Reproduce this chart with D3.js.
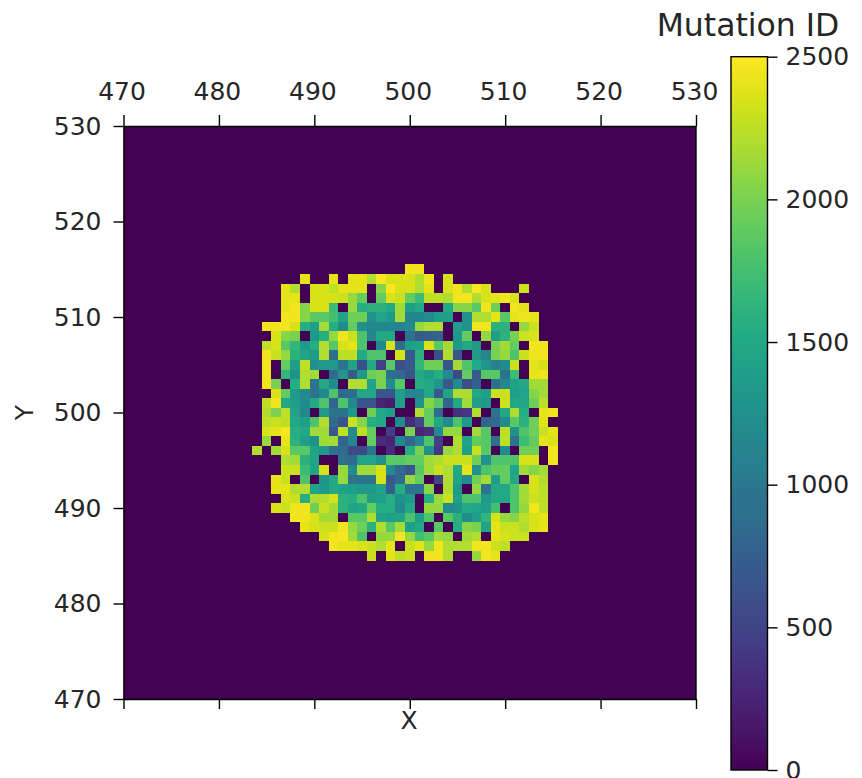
<!DOCTYPE html>
<html>
<head>
<meta charset="utf-8">
<script src="https://cdn.jsdelivr.net/npm/d3@7"></script>
<style>
    body { margin: 0; background: #fff; }
    text { font-family: "DejaVu Sans", sans-serif; fill: #262626; }
</style>
</head>
<body>
<div id="chart"></div>
<script>
// grid values, everything outside these columns and rows is 0
const gridColumns = d3.range(484, 516);
const gridRows = d3.range(515, 484, -1);
const axisTicks = [470, 480, 490, 500, 510, 520, 530];
const colorbarTicks = [0, 500, 1000, 1500, 2000, 2500];
const mutationIds = [
    [0,0,0,0,0,0,0,0,0,0,0,0,0,0,0,0, 2450,2450,0,0,0,0,0,0,0,0,0,0,0,0,0,0],
    [0,0,0,0,0,2400,0,0,2400,0,2400,2400,2200,2480,2350,2350, 2350,2200,2450,0,2350,0,0,0,0,0,0,0,0,0,0,0],
    [0,0,0,2400,2200,0,2350,2350,2250,2400,2400,2400,0,2050,2480,2350, 2350,2200,2400,0,2350,2450,2200,2480,2350,0,0,0,2300,0,0,0],
    [0,0,0,2400,2400,0,2350,2350,2350,2300,2100,1900,0,1900,2350,2300, 1900,1700,2250,2250,2200,2450,2450,2200,2350,2400,2450,2350,0,0,0,0],
    [0,0,0,2400,2450,2050,2350,2350,1700,0,2100,1550,1600,1600,1500,2150, 1400,1500,0,0,1500,2050,2050,1850,2450,1950,0,2450,2400,0,0,0],
    [0,0,0,2450,2450,2050,1850,1850,1750,1450,1950,1950,1250,1450,1350,2150, 1150,1150,1200,1400,1400,0,1250,2200,2200,2400,1850,2400,2450,2400,0,0],
    [0,2450,2450,2450,2350,1550,1400,2150,1550,1200,1900,1250,1150,1150,1150,1100, 1200,2100,2200,2200,0,1400,1250,2450,2450,1600,1600,0,2100,2300,0,0],
    [0,0,2350,2050,2000,0,1350,1550,2100,2450,2300,1800,1150,1500,1500,0, 950,700,750,800,0,1350,1900,0,2100,1400,1600,2000,2300,2350,0,0],
    [0,2250,2350,1850,1650,1350,1550,2200,1850,2350,2400,1800,0,1150,2350,900, 1400,1450,2350,1850,2150,1350,1500,1350,0,2000,2150,1900,0,2450,2450,0],
    [0,2450,2300,2100,1600,1450,1350,2200,900,2250,2250,1500,1800,1800,0,2350, 700,1600,0,600,2200,650,0,1350,1150,2000,2100,1800,2300,2450,2450,0],
    [0,2450,0,1900,1400,2250,1250,1350,1350,950,1450,600,1500,450,1850,600, 700,1650,1950,1950,650,2150,1800,1500,1300,1100,1200,2300,0,2400,2350,0],
    [0,2450,0,1650,1250,2200,2150,0,850,1300,700,1350,1950,2000,900,850, 650,1500,1400,1550,1200,550,1900,700,1850,1850,950,1700,0,2400,2450,0],
    [0,2450,2000,0,1550,2200,950,1500,1200,0,2200,2200,1450,2000,1200,1850, 0,1550,1500,1300,700,1200,600,750,0,900,1150,1450,1500,2150,2150,0],
    [0,0,2350,1900,1350,1200,950,1150,1800,850,900,1500,1500,650,650,1400, 1150,1150,1500,700,1450,2200,2200,1500,1400,2300,2300,1400,1450,2050,2150,0],
    [0,2250,2450,1500,1400,1200,1500,1800,800,1800,1150,650,650,250,200,1400, 0,1250,2050,1850,800,1500,2150,1400,1350,0,2300,1500,1450,1950,2250,0],
    [0,2200,2000,2250,1450,1150,0,1350,950,950,1350,0,1950,1500,1400,0, 0,2200,1900,850,0,350,400,2200,0,950,1500,2200,1550,0,2400,2450],
    [0,2250,2300,2250,1500,1400,1800,2200,850,650,2300,2050,1550,1500,0,1200, 300,550,1900,1500,1200,1800,1350,0,800,850,1200,1850,1600,1950,2400,0],
    [0,2350,2400,2480,1550,1500,2150,2150,700,2250,1200,2250,1900,0,450,0, 2000,250,350,1200,2100,2100,0,2150,1850,0,2250,1250,1800,1950,2300,2400],
    [0,2100,0,2400,1600,1400,1250,2150,2150,800,1150,0,1900,300,250,1150, 850,1150,1800,450,0,2200,1450,1900,1850,900,2250,950,1700,1900,2400,2350],
    [2200,0,2150,2350,1850,1850,1450,1350,900,850,550,550,950,0,300,0, 1550,2000,1250,400,2100,2200,1400,2300,1850,0,1200,0,1950,1950,0,2450],
    [0,0,0,2200,2150,1600,1450,0,0,900,850,1450,1450,1250,1850,1850, 1900,1900,2150,2200,2300,2300,2300,1950,1250,1800,1800,1800,2350,2350,0,2450],
    [0,0,0,2300,2300,1700,1450,2350,0,2100,1200,2150,2150,2350,1200,850, 650,1850,2150,2300,2200,1500,2400,1250,1800,1900,1900,1450,2150,2050,2150,0],
    [0,0,2400,2300,0,1800,0,1300,1500,2100,950,950,950,2350,700,850, 2100,1900,0,500,2200,1450,1200,1950,2150,1400,1900,1500,0,2350,2200,0],
    [0,0,2400,2400,2200,2200,1450,1350,1500,1450,1400,1350,1350,1450,750,1550, 950,950,2050,0,2200,1350,0,2100,950,1500,1500,1800,2150,2350,2250,0],
    [0,0,0,2350,2300,1550,2200,2200,2350,1600,1550,1800,1400,1400,1550,1250, 1350,0,1550,2100,2300,1400,1800,1800,1350,1500,1500,1800,2150,2300,2250,0],
    [0,0,2350,2300,2450,2450,1950,2300,2150,1600,1450,1500,1900,1550,1550,1200, 1500,0,2100,2100,1200,1250,1500,1450,1400,1750,0,1800,2100,2450,2250,0],
    [0,0,0,0,2450,2450,2350,2150,2150,0,1850,1850,2200,1450,1400,1450, 1800,1400,1800,0,1850,1600,1200,1400,1650,2350,2100,2050,2250,2350,2400,0],
    [0,0,0,0,0,2400,2350,2300,2300,2450,2100,1950,1600,2200,1850,2150, 1400,1500,0,1850,0,1550,2050,2000,1450,2400,2300,2300,2200,2350,2400,0],
    [0,0,0,0,0,0,0,2350,2450,2480,2150,1800,0,2100,2100,2450, 2100,1750,1850,2150,2100,0,2150,2200,0,2400,2350,2300,2300,0,0,0],
    [0,0,0,0,0,0,0,0,2450,2400,2400,2350,2300,2200,2400,0, 2300,2400,2100,2450,2200,2200,2200,2450,2450,2300,2250,0,0,0,0,0],
    [0,0,0,0,0,0,0,0,0,0,0,0,2300,0,2400,2250, 2300,0,2450,2450,2200,0,0,2100,2450,2400,0,0,0,0,0,0]
];

const width = 862, height = 778;
const tickFont = 25;

const svg = d3.select("#chart").append("svg")
    .attr("width", width)
    .attr("height", height)
    .style("display", "block");

const x = d3.scaleLinear().domain([470, 530]).range([123.5, 696]);
const y = d3.scaleLinear().domain([470, 530]).range([699, 126]);
const color = d3.scaleSequential(d3.interpolateViridis).domain([0, 2500]);

// empty part of the image
svg.append("rect")
    .attr("x", x(470))
    .attr("y", y(530))
    .attr("width", x(530) - x(470))
    .attr("height", y(470) - y(530))
    .attr("fill", color(0));

// cells are centred on whole numbers like imshow does
const cells = [];
gridRows.forEach((row, i) => {
    gridColumns.forEach((col, j) => {
        cells.push({ col: col, row: row, value: mutationIds[i][j] });
    });
});

svg.append("g")
    .selectAll("rect")
    .data(cells)
    .join("rect")
    .attr("x", d => x(d.col - 0.5))
    .attr("y", d => y(d.row + 0.5))
    .attr("width", d => x(d.col + 0.5) - x(d.col - 0.5))
    .attr("height", d => y(d.row - 0.5) - y(d.row + 0.5))
    .attr("fill", d => color(d.value))
    .attr("shape-rendering", "crispEdges");

function styleAxis(g) {
    g.selectAll("path").attr("stroke", "#000").attr("stroke-width", 1.4);
    g.selectAll("line").attr("stroke", "#000").attr("stroke-width", 1.4);
    g.selectAll("text").style("font-size", tickFont + "px").style("font-family", '"DejaVu Sans", sans-serif').attr("fill", "#262626");
}

svg.append("g")
    .attr("transform", `translate(0,${y(530)})`)
    .call(d3.axisTop(x).tickValues(axisTicks).tickSize(11).tickSizeOuter(0).tickPadding(15).tickFormat(d3.format("d")))
    .call(styleAxis)
    .call(g => g.selectAll("text").attr("dx", -2));

svg.append("g")
    .attr("transform", `translate(0,${y(470)})`)
    .call(d3.axisBottom(x).tickValues(axisTicks).tickSize(10).tickSizeOuter(0).tickFormat(""))
    .call(styleAxis);

svg.append("g")
    .attr("transform", `translate(${x(470)},0)`)
    .call(d3.axisLeft(y).tickValues(axisTicks).tickSize(10).tickSizeOuter(0).tickPadding(12).tickFormat(d3.format("d")))
    .call(styleAxis);

// right spine, no ticks there
svg.append("line")
    .attr("x1", x(530)).attr("x2", x(530))
    .attr("y1", y(530)).attr("y2", y(470))
    .attr("stroke", "#000").attr("stroke-width", 1.4);

svg.append("text")
    .attr("x", 409)
    .attr("y", 729)
    .attr("text-anchor", "middle")
    .style("font-size", tickFont + "px")
    .text("X");

svg.append("text")
    .attr("transform", `translate(33,${(y(470) + y(530)) / 2}) rotate(-90)`)
    .attr("text-anchor", "middle")
    .style("font-size", tickFont + "px")
    .text("Y");

// colorbar
const barY = d3.scaleLinear().domain([0, 2500]).range([770, 56.7]);
const gradient = svg.append("defs").append("linearGradient")
    .attr("id", "viridis")
    .attr("x1", 0).attr("x2", 0).attr("y1", 1).attr("y2", 0);
gradient.selectAll("stop")
    .data(d3.range(0, 1.001, 0.02))
    .join("stop")
    .attr("offset", d => d)
    .attr("stop-color", d => d3.interpolateViridis(d));

svg.append("rect")
    .attr("x", 731)
    .attr("y", barY(2500))
    .attr("width", 36.5)
    .attr("height", barY(0) - barY(2500))
    .attr("fill", "url(#viridis)")
    .attr("stroke", "#000")
    .attr("stroke-width", 1.4);

svg.append("g")
    .attr("transform", "translate(767.5,0)")
    .call(d3.axisRight(barY).tickValues(colorbarTicks).tickSize(10).tickSizeOuter(0).tickPadding(8).tickFormat(d3.format("d")))
    .call(styleAxis)
    .call(g => g.select("path").remove());

svg.append("text")
    .attr("x", 748)
    .attr("y", 36)
    .attr("text-anchor", "middle")
    .style("font-size", "31.5px")
    .text("Mutation ID");
</script>
</body>
</html>
